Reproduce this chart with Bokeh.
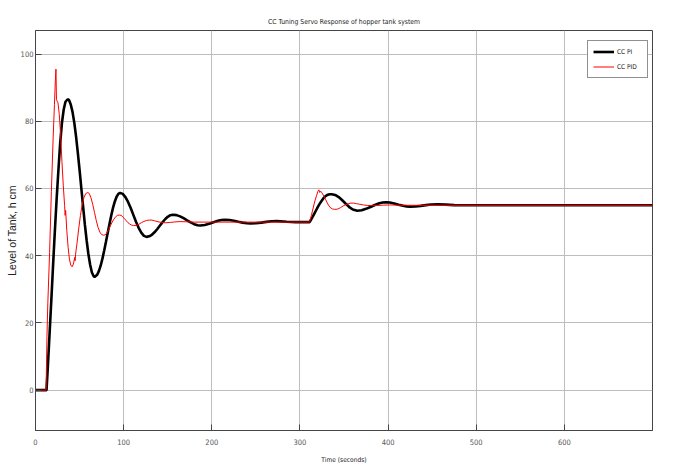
from bokeh.plotting import figure
from bokeh.models import Range1d, FixedTicker, Legend, LegendItem
from bokeh.embed import file_html
from bokeh.resources import INLINE

# ---- data ----
title_text = "CC Tuning Servo Response of hopper tank system"
x_label = "Time (seconds)"
y_label = "Level of Tank, h cm"
x_ticks = [0, 100, 200, 300, 400, 500, 600]
y_ticks = [0, 20, 40, 60, 80, 100]
series_names = ["CC PI", "CC PID"]

pi_t = [0, 12.5, 14, 16, 18, 20, 22, 24, 26, 28, 30, 32, 34, 36, 37, 38,
        40, 42, 44, 46, 48, 50, 52, 54, 56, 58, 60, 62, 64, 66, 67,
        70, 72, 74, 76, 78, 80, 82, 84, 86, 88, 90, 92, 94, 96,
        99, 102, 105, 108, 111, 114, 117, 120, 123, 126,
        129, 132, 135, 138, 141, 144, 147, 150, 153, 156,
        160, 164, 168, 172, 176, 180, 184, 187,
        192, 197, 202, 207, 211, 215,
        220, 225, 230, 235, 240, 244,
        250, 256, 262, 268, 274, 285, 295, 311,
        312.5, 314.5, 316.5, 318.5, 320.5, 322.5, 324.5, 326.5, 328.5, 330.5, 332.5, 334.5, 336,
        340, 344, 348, 352, 356, 360, 365,
        370, 375, 380, 385, 390, 394, 397.5,
        402, 407, 412, 417, 421, 425,
        431, 437, 443, 449, 456, 465, 475, 490, 700]
pi_h = [0, 0, 7, 17, 27, 37.5, 47.5, 57, 65.5, 73.5, 79.5, 83.5, 85.8, 86.4, 86.5, 86.3,
        85.0, 82.8, 79.6, 75.5, 70.7, 65.5, 60.0, 54.6, 49.3, 44.6, 40.5, 37.3, 35.0, 33.9, 33.7,
        34.35, 35.5, 37.1, 39.2, 41.6, 44.2, 46.9, 49.5, 52.05, 54.3, 56.15, 57.55, 58.4, 58.7,
        58.4, 57.45, 56.0, 54.2, 52.15, 50.1, 48.3, 46.85, 45.9, 45.6,
        45.76, 46.23, 46.96, 47.88, 48.9, 49.92, 50.84, 51.57, 52.04, 52.2,
        52.07, 51.7, 51.16, 50.52, 49.9, 49.39, 49.07, 49.0,
        49.13, 49.48, 49.94, 50.38, 50.62, 50.7,
        50.62, 50.41, 50.12, 49.84, 49.65, 49.6,
        49.67, 49.84, 50.06, 50.23, 50.3, 50.1, 50.0, 50.0,
        50.7, 51.6, 52.6, 53.6, 54.6, 55.5, 56.3, 57.05, 57.6, 58.0, 58.2, 58.3, 58.3,
        58.07, 57.44, 56.5, 55.45, 54.47, 53.74, 53.4,
        53.54, 53.94, 54.5, 55.09, 55.59, 55.83, 55.9,
        55.81, 55.55, 55.19, 54.85, 54.67, 54.6,
        54.66, 54.83, 55.04, 55.22, 55.3, 55.2, 55.05, 55.0, 55.0]

pid_t = [0, 12, 13, 14, 16, 18, 20,
         21.5, 22.5, 23.2, 23.8, 24.5, 25.5,
         27, 28.5, 30, 31.5, 33, 33.6, 34.2,
         35.5, 37, 38.5, 40, 41.5, 43, 44.5, 45, 45.5,
         47, 49, 51, 53, 55, 57, 59.3,
         61, 63, 65, 67, 69, 71, 73, 75, 77, 79,
         81, 83, 85, 87, 89, 91, 93, 95, 97, 99,
         101, 103, 105, 107, 109, 111,
         114, 117, 120, 123, 126, 129, 132, 135,
         139, 143, 148, 153, 158, 164, 170, 180,
         311, 313, 315, 317, 319,
         320.5, 321.5, 322.5, 323.5, 325,
         327, 329, 331, 333, 335, 337, 339, 341,
         343, 346, 349, 352, 355, 358, 361, 364,
         368, 372, 377, 382, 388, 395, 402, 410, 420, 700]
pid_h = [0, 0, 16, 26, 41, 59, 75,
         85, 92, 95.5, 86.5, 86, 85.5,
         82, 76, 68, 61, 55, 52, 53.5,
         47.5, 42.5, 39, 37.2, 36.7, 37.5, 39.5, 38.5, 40.5,
         43.5, 48, 52, 55.2, 57.3, 58.5, 58.8,
         58.5, 57.2, 55.2, 52.8, 50.4, 48.4, 47.0, 46.3, 46.1, 46.2,
         46.8, 47.8, 48.9, 50.0, 50.9, 51.6, 52.0, 52.1, 52.0, 51.6,
         51.0, 50.4, 49.8, 49.4, 49.1, 49.0,
         49.0, 49.3, 49.8, 50.2, 50.5, 50.6, 50.6, 50.4,
         50.1, 49.9, 49.8, 49.9, 50.05, 50.15, 50.1, 50.0,
         50.0, 52, 54.2, 56.3, 58,
         59.2, 59.6, 58.8, 59.2, 58.7,
         57.8, 56.8, 55.7, 54.8, 54.2, 53.9, 53.8, 53.8,
         53.9, 54.3, 54.8, 55.2, 55.5, 55.65, 55.65, 55.5,
         55.3, 55.1, 54.95, 54.9, 54.95, 55.05, 55.1, 55.05, 55.0, 55.0]

FONT = "'DejaVu Sans Condensed', 'Liberation Sans', sans-serif"
AX = "#444444"

p = figure(width=677, height=466, output_backend="svg", toolbar_location=None,
           x_range=Range1d(0, 700), y_range=Range1d(-12, 107),
           min_border_left=35, min_border_right=25, min_border_top=30, min_border_bottom=36,
           background_fill_color="white", border_fill_color="white")

p.title.text = title_text
p.title.align = "center"
p.title.text_font = FONT
p.title.text_font_size = "6.8px"
p.title.text_font_style = "normal"
p.title.text_color = "#222222"
p.title.standoff = 10

p.outline_line_color = AX
p.outline_line_width = 1

for ax in (p.xaxis[0], p.yaxis[0]):
    ax.major_tick_in = 6
    ax.major_tick_out = 0
    ax.minor_tick_line_color = None
    ax.axis_line_color = AX
    ax.major_tick_line_color = AX
    ax.major_label_text_font = FONT
    ax.major_label_text_font_size = "7.5px"
    ax.major_label_text_color = "#555555"
    ax.axis_label_text_font = FONT
    ax.axis_label_text_font_size = "6.6px"
    ax.axis_label_text_font_style = "normal"
    ax.axis_label_text_color = "#222222"

p.xaxis[0].ticker = FixedTicker(ticks=x_ticks)
p.yaxis[0].ticker = FixedTicker(ticks=y_ticks)
p.xaxis[0].axis_label = x_label
p.yaxis[0].axis_label = y_label
p.yaxis[0].axis_label_text_font = "Liberation Sans"
p.yaxis[0].axis_label_text_font_size = "10.5px"
p.xaxis[0].major_label_standoff = 8
p.xaxis[0].axis_label_standoff = 8
p.yaxis[0].major_label_standoff = 2
p.yaxis[0].axis_label_standoff = 0

p.xgrid.ticker = FixedTicker(ticks=x_ticks)
p.ygrid.ticker = FixedTicker(ticks=y_ticks)
p.grid.grid_line_color = "#bdbdbd"
p.grid.grid_line_width = 1

r_pi = p.line(pi_t, pi_h, line_color="black", line_width=2.6)
r_pid = p.line(pid_t, pid_h, line_color="#ff0000", line_width=1)

legend = Legend(items=[LegendItem(label=series_names[0], renderers=[r_pi]),
                       LegendItem(label=series_names[1], renderers=[r_pid])],
                location=(552, 352), padding=5, spacing=4, margin=0,
                glyph_width=21, glyph_height=11, label_height=11, label_width=25,
                label_standoff=3, label_text_font=FONT, label_text_font_size="6.5px",
                label_text_color="#222222", border_line_color="#222222",
                background_fill_color="white", background_fill_alpha=1)
p.add_layout(legend)

open("out.html", "w").write(file_html(p, INLINE))
